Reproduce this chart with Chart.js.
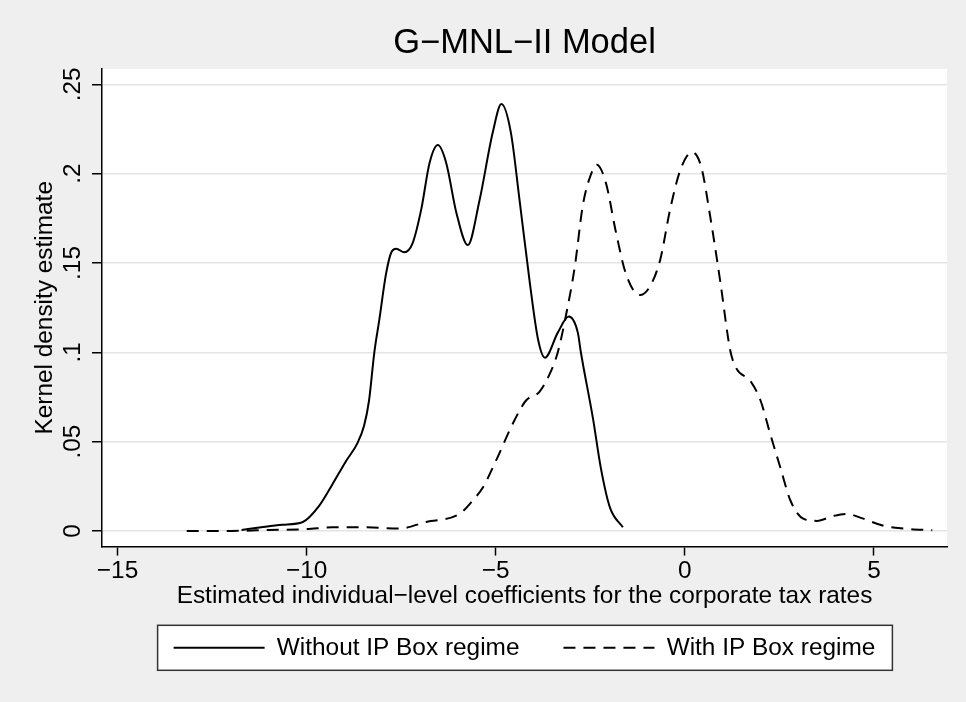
<!DOCTYPE html>
<html>
<head>
<meta charset="utf-8">
<script src="https://cdn.jsdelivr.net/npm/chart.js@4/dist/chart.umd.min.js"></script>
<style>
  body { margin: 0; background: #ffffff; }
  #chart { display: block; background: #efefef; }
</style>
</head>
<body>
<canvas id="chart" width="966" height="702"></canvas>
<script>
// Data
const xWithout = [-11.72, -11.2, -10.65, -10.1, -9.67, -9.32, -8.96, -8.66, -8.48, -8.35, -8.21, -8.08, -7.9, -7.76, -7.63, -7.42, -7.2, -6.97, -6.75, -6.53, -6.31, -6.04, -5.74, -5.43, -5.08, -4.85, -4.6, -4.37, -4.1, -3.88, -3.7, -3.36, -3.07, -2.83, -2.75, -2.43, -2.22, -1.98, -1.64];
const yWithout = [0.0005, 0.002, 0.0034, 0.005, 0.014, 0.026, 0.039, 0.049, 0.059, 0.073, 0.100, 0.118, 0.144, 0.156, 0.158, 0.156, 0.161, 0.180, 0.206, 0.216, 0.206, 0.178, 0.160, 0.185, 0.223, 0.239, 0.223, 0.185, 0.139, 0.107, 0.097, 0.111, 0.120, 0.111, 0.100, 0.063, 0.035, 0.013, 0.002];

const xWith = [-13.17, -12.0, -11.0, -10.0, -9.32, -8.43, -7.55, -6.84, -5.96, -5.61, -5.35, -5.0, -4.55, -4.2, -3.84, -3.57, -3.36, -3.15, -2.91, -2.7, -2.51, -2.33, -2.09, -1.82, -1.56, -1.19, -0.92, -0.65, -0.39, -0.12, 0.19, 0.43, 0.67, 0.94, 1.2, 1.36, 1.73, 2.0, 2.26, 2.53, 2.79, 3.14, 3.49, 3.93, 4.28, 4.65, 5.26, 5.79, 6.54];
const yWith = [0.0, 0.0, 0.0005, 0.001, 0.002, 0.002, 0.0013, 0.005, 0.0095, 0.017, 0.024, 0.039, 0.060, 0.073, 0.078, 0.088, 0.100, 0.120, 0.148, 0.182, 0.198, 0.205, 0.195, 0.167, 0.144, 0.132, 0.137, 0.152, 0.180, 0.202, 0.212, 0.204, 0.176, 0.139, 0.101, 0.091, 0.084, 0.073, 0.054, 0.035, 0.017, 0.0067, 0.0056, 0.0084, 0.0095, 0.0073, 0.0028, 0.0013, 0.0004];

const seriesNames = ['Without IP Box regime', 'With IP Box regime'];

// Axis ticks
const xTickValues = [-15, -10, -5, 0, 5];
const xTickLabels = ['\u221215', '\u221210', '\u22125', '0', '5'];
const yTickValues = [0, 0.05, 0.1, 0.15, 0.2, 0.25];
const yTickLabels = ['0', '.05', '.1', '.15', '.2', '.25'];

const FONT = "'Liberation Sans', Arial, Helvetica, sans-serif";
const TEXT_SIZE = 24.4;

function toPoints(xs, ys) {
    return xs.map((x, i) => ({ x: x, y: ys[i] }));
}

// White plot region + framed legend
const framePlugin = {
    id: 'frame',
    beforeDraw(chart) {
        const ctx = chart.ctx;
        const a = chart.chartArea;
        ctx.save();
        ctx.fillStyle = '#ffffff';
        ctx.fillRect(a.left, a.top, a.right - a.left, a.bottom - a.top);

        const lg = chart.legend;
        if (lg && lg.legendHitBoxes && lg.legendHitBoxes.length) {
            const boxes = lg.legendHitBoxes;
            const first = boxes[0];
            const last = boxes[boxes.length - 1];
            const cy = first.top + first.height / 2;
            const left = first.left - 16;
            const right = last.left + last.width + 17;
            ctx.fillStyle = '#ffffff';
            ctx.fillRect(left, cy - 22.5, right - left, 45);
            ctx.strokeStyle = '#333333';
            ctx.lineWidth = 1.5;
            ctx.strokeRect(left, cy - 22.5, right - left, 45);
        }
        ctx.restore();
    }
};

const chart = new Chart(document.getElementById('chart').getContext('2d'), {
    type: 'scatter',
    data: {
        datasets: [
            {
                label: seriesNames[0],
                data: toPoints(xWithout, yWithout),
                showLine: true,
                borderColor: '#000000',
                backgroundColor: '#000000',
                borderWidth: 2,
                pointRadius: 0,
                cubicInterpolationMode: 'monotone'
            },
            {
                label: seriesNames[1],
                data: toPoints(xWith, yWith),
                showLine: true,
                borderColor: '#000000',
                backgroundColor: '#000000',
                borderWidth: 2,
                borderDash: [12, 8],
                pointRadius: 0,
                cubicInterpolationMode: 'monotone'
            }
        ]
    },
    options: {
        responsive: false,
        animation: false,
        devicePixelRatio: 1,
        layout: { padding: { left: 0, right: 19, top: 0, bottom: 32 } },
        plugins: {
            title: {
                display: true,
                text: 'G\u2212MNL\u2212II Model',
                color: '#000000',
                fullSize: false,
                font: { family: FONT, size: 34.5, weight: 'normal' },
                padding: { top: 23, bottom: 4.6 }
            },
            legend: {
                position: 'bottom',
                fullSize: false,
                labels: {
                    color: '#000000',
                    font: { family: FONT, size: TEXT_SIZE },
                    usePointStyle: true,
                    pointStyle: 'line',
                    pointStyleWidth: 91,
                    padding: 44,
                    // point-style labels drop the dataset dash, so put it back
                    generateLabels: (chart) => {
                        const items = Chart.defaults.plugins.legend.labels.generateLabels(chart);
                        items.forEach(item => {
                            const ds = chart.data.datasets[item.datasetIndex];
                            item.lineDash = ds.borderDash || [];
                            item.lineWidth = 2;
                            item.strokeStyle = '#000000';
                        });
                        return items;
                    }
                }
            },
            tooltip: { enabled: false }
        },
        scales: {
            x: {
                type: 'linear',
                min: -15.41,
                max: 6.93,
                afterBuildTicks: (scale) => { scale.ticks = xTickValues.map(v => ({ value: v })); },
                afterFit: (scale) => { scale.height = 45; },
                ticks: {
                    autoSkip: false,
                    color: '#000000',
                    font: { family: FONT, size: TEXT_SIZE },
                    padding: 1,
                    maxRotation: 0,
                    callback: (value) => xTickLabels[xTickValues.indexOf(value)]
                },
                grid: {
                    drawOnChartArea: false,
                    drawTicks: true,
                    tickLength: 9,
                    tickColor: '#000000',
                    tickWidth: 1.5
                },
                border: { color: '#000000', width: 1.5 },
                title: {
                    display: true,
                    text: 'Estimated individual\u2212level coefficients for the corporate tax rates',
                    color: '#000000',
                    font: { family: FONT, size: TEXT_SIZE },
                    padding: { top: 0, bottom: -19.5 }
                }
            },
            y: {
                type: 'linear',
                min: -0.0088,
                max: 0.2586,
                afterBuildTicks: (scale) => { scale.ticks = yTickValues.map(v => ({ value: v })); },
                afterFit: (scale) => { scale.width = 102; },
                ticks: {
                    autoSkip: false,
                    color: '#000000',
                    font: { family: FONT, size: TEXT_SIZE },
                    minRotation: 90,
                    maxRotation: 90,
                    crossAlign: 'center',
                    padding: 2,
                    callback: (value) => yTickLabels[yTickValues.indexOf(value)]
                },
                grid: {
                    color: '#e4e4e4',
                    lineWidth: 1.5,
                    tickLength: 10,
                    tickColor: '#000000',
                    tickWidth: 1.5
                },
                border: { color: '#000000', width: 1.5 },
                title: {
                    display: true,
                    text: 'Kernel density estimate',
                    color: '#000000',
                    font: { family: FONT, size: TEXT_SIZE },
                    padding: { top: 30.4, bottom: 0 }
                }
            }
        }
    },
    plugins: [framePlugin]
});
</script>
</body>
</html>
